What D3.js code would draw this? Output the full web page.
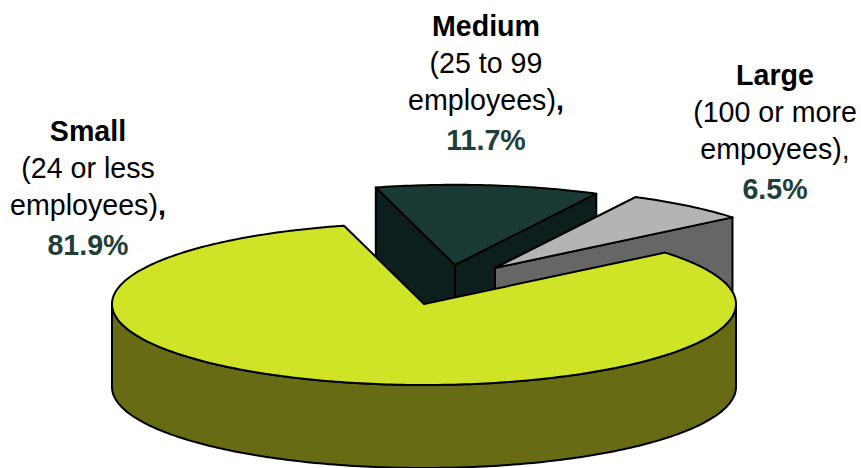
<!DOCTYPE html>
<html>
<head>
<meta charset="utf-8">
<script src="https://cdn.jsdelivr.net/npm/d3@7/dist/d3.min.js"></script>
<style>
  html, body { margin: 0; padding: 0; background: #fff; }
  svg { display: block; }
  text { font-family: "Liberation Sans", Arial, sans-serif; font-size: 28.6px; fill: #000; }
  .name { font-weight: bold; }
  .share { font-weight: bold; fill: #1f3f3b; }
</style>
</head>
<body>
<svg id="chart" width="861" height="468"></svg>
<script>
// Firm size categories and their share of firms (percent)
const categories = ["Small", "Medium", "Large"];
const shares = [81.9, 11.7, 6.5];
const sizeRanges = [["(24 or less", "employees)"], ["(25 to 99", "employees)"], ["(100 or more", "empoyees),"]];

// Slice appearance, in the same order as the categories
const topColors = ["#cfe327", "#1a3a36", "#b4b4b4"];
const wallColors = ["#666b14", "#0d1f1d", "#666666"];

const width = 861, height = 468;
const cx = 424, cy = 304, rx = 312, ry = 81, depth = 83;
const firstSliceStart = 50.6 * Math.PI / 180;

// Pulled-out slices shift by a pixel offset and sit at a slightly reduced radius
const explode = {
  Small: { dx: 0, dy: 0, k: 1 },
  Medium: { dx: 31, dy: -39, k: 0.99 },
  Large: { dx: 71, dy: -36, k: 0.985 }
};

const pie = d3.pie().sort(null)
  .startAngle(firstSliceStart)
  .endAngle(firstSliceStart + 2 * Math.PI);

const slices = pie(shares).map((d, i) => ({ ...d, name: categories[i], top: topColors[i], wall: wallColors[i] }));

const svg = d3.select("#chart");
const line = d3.line();

// Project a pie angle (clockwise from 12 o'clock) onto the tilted ellipse
const project = (a, e, z = 0) => [
  cx + e.dx + e.k * rx * Math.sin(a),
  cy + e.dy - e.k * ry * Math.cos(a) + z
];
const arcPoints = (a0, a1, e, z = 0) => {
  const n = Math.max(2, Math.ceil(Math.abs(a1 - a0) * 60));
  return d3.range(n + 1).map(i => project(a0 + (a1 - a0) * i / n, e, z));
};

function drawPoly(points, fill) {
  svg.append("path")
    .attr("d", line(points) + "Z")
    .attr("fill", fill)
    .attr("stroke", "#000")
    .attr("stroke-width", 2)
    .attr("stroke-linejoin", "round");
}

// Flat cut face running from the hub out to the rim at angle a
function cutFace(a, e, fill) {
  const hub = [cx + e.dx, cy + e.dy];
  const rim = project(a, e);
  drawPoly([hub, rim, [rim[0], rim[1] + depth], [hub[0], hub[1] + depth]], fill);
}

function drawSlice(s) {
  const e = explode[s.name];
  if (s.name !== "Small") {
    cutFace(s.startAngle, e, s.wall);
    cutFace(s.endAngle, e, s.wall);
  } else {
    // Front rim: the part of the outer wall that faces the viewer
    const front = arcPoints(Math.PI / 2, 3 * Math.PI / 2, e);
    const lower = arcPoints(3 * Math.PI / 2, Math.PI / 2, e, depth);
    drawPoly(front.concat(lower), s.wall);
  }
  drawPoly([[cx + e.dx, cy + e.dy]].concat(arcPoints(s.startAngle, s.endAngle, e)), s.top);
}

// Back slices first so the large front slice overlaps them
drawSlice(slices[1]);
drawSlice(slices[2]);
drawSlice(slices[0]);

// Labels: bold name, plain size range, bold coloured share
const labelAnchors = [[88, 141], [486, 36], [775, 85]];
const lineGap = 37;
categories.forEach((name, i) => {
  const [x, y] = labelAnchors[i];
  const g = svg.append("g").attr("text-anchor", "middle");
  g.append("text").attr("class", "name").attr("x", x).attr("y", y).text(name);
  sizeRanges[i].forEach((t, j) => {
    const row = g.append("text").attr("x", x).attr("y", y + lineGap * (j + 1));
    row.append("tspan").text(t);
    if (j === 1 && !t.endsWith(",")) row.append("tspan").attr("class", "name").text(",");
  });
  g.append("text").attr("class", "share").attr("x", x).attr("y", y + lineGap * 3 + 3)
    .text(d3.format(".1f")(shares[i]) + "%");
});
</script>
</body>
</html>
